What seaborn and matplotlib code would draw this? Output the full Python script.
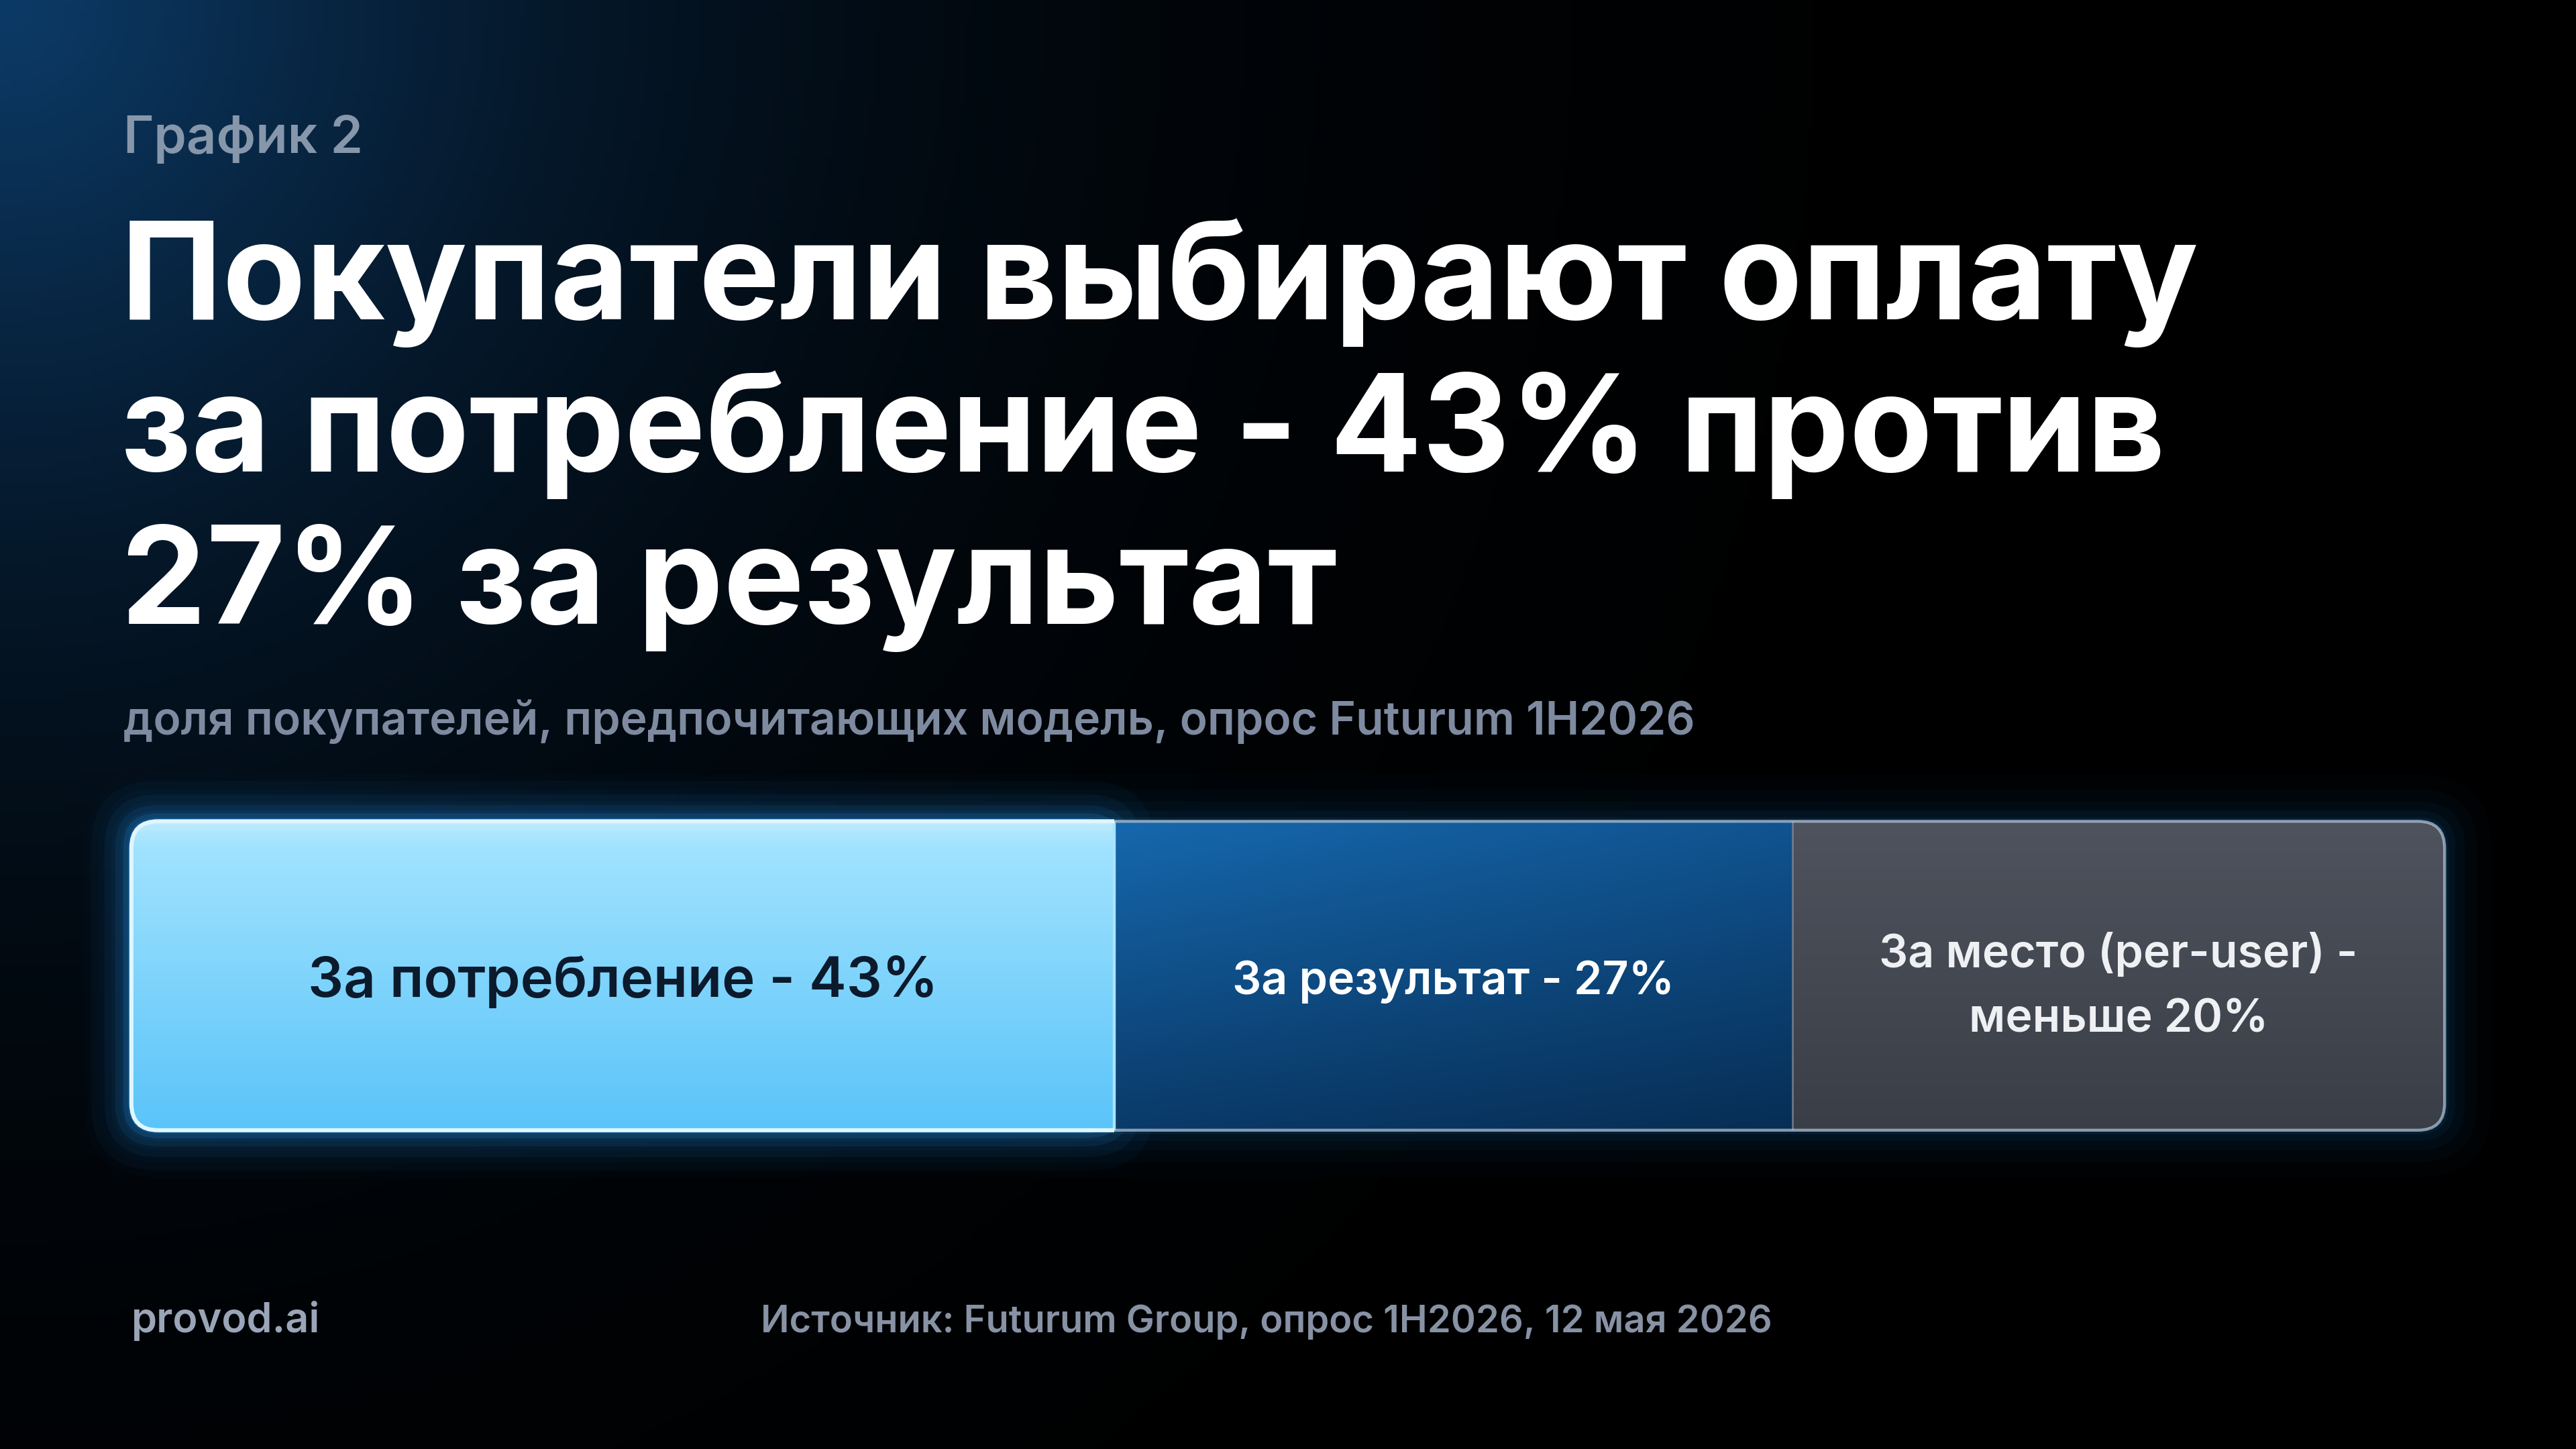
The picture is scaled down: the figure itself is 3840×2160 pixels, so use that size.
import numpy as np
import pandas as pd
import matplotlib.pyplot as plt
import seaborn as sns
from matplotlib.patches import FancyBboxPatch, Rectangle
from matplotlib.colors import to_rgb

# Texts and values
kicker = "График 2"
title_lines = ["Покупатели выбирают оплату",
               "за потребление - 43% против",
               "27% за результат"]
subtitle = "доля покупателей, предпочитающих модель, опрос Futurum 1H2026"
segments = ["За потребление - 43%", "За результат - 27%",
            "За место (per-user) -\nменьше 20%"]
seg_widths = [42.5, 29.3, 28.2]   # drawn widths of the three parts of the bar
brand = "provod.ai"
source = "Источник: Futurum Group, опрос 1H2026, 12 мая 2026"

seg_colors = ["#6fcdfb", "#0d4a85", "#42464f"]
seg_text_colors = ["#0b1a2c", "#ffffff", "#eef0f3"]
seg_font_sizes = [30, 24.5, 24.5]
seg_text_dy = [-0.02, -0.02, -0.035]

sns.set_theme(style="white")
plt.rcParams['font.family'] = ['Inter', 'DejaVu Sans']

W, H, DPI = 3840, 2160, 200
fig = plt.figure(figsize=(W / DPI, H / DPI), dpi=DPI, facecolor='black')

# background: black with a soft blue glow in the top-left corner
bg = fig.add_axes([0, 0, 1, 1], zorder=-10)
yy, xx = np.mgrid[0:1:270j, 0:1:480j]
d = np.sqrt(xx ** 2 + (yy * H / W) ** 2)
k = np.exp(-(d / 0.24) ** 1.3)
blue = np.array(to_rgb("#0c3a66"))
bg.imshow(k[..., None] * blue, extent=(0, 1, 0, 1), aspect='auto', origin='upper')
bg.set_axis_off()

# main bar axes, sized to the bar itself
ax = fig.add_axes([0.0510, 0.2200, 0.8980, 0.2132])
ax.set_facecolor('none')

df = pd.DataFrame({'segment': segments, 'width': seg_widths})
df['right'] = df['width'].cumsum()
df['left'] = df['right'] - df['width']
df['row'] = 'bar'

sns.barplot(data=df, x='right', y='row', hue='segment',
            hue_order=segments[::-1], palette=dict(zip(segments, seg_colors)),
            dodge=False, width=1.0, saturation=1, legend=False, ax=ax,
            linewidth=0)

total = df['right'].iloc[-1]
ax.set_xlim(0, total)
ax.set_ylim(-0.5, 0.5)
ax.set_axis_off()

# rounded outline of the whole bar, used for clipping
pos = ax.get_position()
px_x = pos.width * W / total
px_y = pos.height * H / 1.0
asp = px_x / px_y
r = 40 / px_x
outline = FancyBboxPatch((0, -0.5), total, 1.0,
                         boxstyle=f"round,pad=0,rounding_size={r}",
                         mutation_aspect=asp, transform=ax.transData,
                         facecolor='none', edgecolor='none')
ax.add_patch(outline)
for p in ax.patches:
    if p is not outline:
        p.set_clip_path(outline)

# glow behind the bar
for pad_px, a in [(70, 0.02), (48, 0.03), (30, 0.045), (16, 0.06), (6, 0.1)]:
    g = FancyBboxPatch((0, -0.5), total, 1.0,
                       boxstyle=f"round,pad={pad_px / px_x},rounding_size={r + pad_px / px_x}",
                       mutation_aspect=asp, transform=ax.transData,
                       facecolor="#1c86e0", edgecolor='none', alpha=a,
                       clip_on=False, zorder=0)
    ax.add_patch(g)
w1 = df['width'].iloc[0]
for pad_px, a in [(60, 0.04), (40, 0.06), (24, 0.09), (12, 0.14), (4, 0.22)]:
    g = FancyBboxPatch((0, -0.5), w1, 1.0,
                       boxstyle=f"round,pad={pad_px / px_x},rounding_size={r + pad_px / px_x}",
                       mutation_aspect=asp, transform=ax.transData,
                       facecolor="#2aa4ff", edgecolor='none', alpha=a,
                       clip_on=False, zorder=0)
    ax.add_patch(g)


def grad(c_top, c_bot, c_left=None, c_right=None, n=200):
    t = np.linspace(0, 1, n)[:, None, None]
    img = (1 - t) * np.array(to_rgb(c_top)) + t * np.array(to_rgb(c_bot))
    img = np.repeat(img, n, axis=1)
    if c_left is not None:
        s = np.linspace(0, 1, n)[None, :, None]
        img = img * (1 - 0.5 * s) + 0.5 * s * (
            (1 - t) * np.array(to_rgb(c_left)) + t * np.array(to_rgb(c_right)))
    return np.clip(img, 0, 1)


grads = [grad("#a6e5ff", "#5ac4f9"),
         grad("#1668ad", "#0a3a69", "#0b3f73", "#04213f"),
         grad("#4e535d", "#3a3e47")]
for (_, row), img in zip(df.iterrows(), grads):
    im = ax.imshow(img, extent=(row['left'], row['right'], -0.5, 0.5),
                   origin='upper', aspect='auto', zorder=2, interpolation='bilinear')
    im.set_clip_path(outline)

# top highlight on the first part
hl = np.zeros((60, 2, 4))
hl[..., :3] = 1
hl[:, :, 3] = np.linspace(0.55, 0, 60)[:, None] ** 2
im = ax.imshow(hl, extent=(0, w1, 0.38, 0.5), origin='upper', aspect='auto', zorder=3)
im.set_clip_path(outline)

# dividers and border
ax.plot([w1, w1], [-0.5, 0.5], color="#a9e3ff", lw=1.6, zorder=4)
x2 = df['right'].iloc[1]
ax.plot([x2, x2], [-0.5, 0.5], color="#7b8596", lw=1.0, alpha=0.8, zorder=4)
border = FancyBboxPatch((0, -0.5), total, 1.0,
                        boxstyle=f"round,pad=0,rounding_size={r}",
                        mutation_aspect=asp, transform=ax.transData,
                        facecolor='none', edgecolor="#b7c8da", lw=1.6,
                        alpha=0.7, zorder=5, clip_on=False)
ax.add_patch(border)
b1 = FancyBboxPatch((0, -0.5), total, 1.0,
                    boxstyle=f"round,pad=0,rounding_size={r}",
                    mutation_aspect=asp, transform=ax.transData,
                    facecolor='none', edgecolor="#dff6ff", lw=2.2, zorder=5)
ax.add_patch(b1)
b1.set_clip_on(True)
b1.set_clip_box(None)
b1.set_clip_path(Rectangle((-3, -0.7), w1 + 3, 1.4, transform=ax.transData))

ax.set_xlim(0, total)
ax.set_ylim(-0.5, 0.5)

# labels inside the bar
for (_, row), tc, fs, dy in zip(df.iterrows(), seg_text_colors, seg_font_sizes, seg_text_dy):
    ax.text((row['left'] + row['right']) / 2, dy, row['segment'],
            ha='center', va='center', color=tc, fontsize=fs,
            fontweight='semibold', linespacing=1.65, zorder=6)

# headings
fig.text(0.048, 1 - 93 / 882, kicker, color="#8797ab", fontsize=28,
         fontweight='semibold', va='baseline')
for i, line in enumerate(title_lines):
    fig.text(0.047, 1 - (194.4 + 92.7 * i) / 882, line, color="white",
             fontsize=73, fontweight='bold', va='baseline')
fig.text(0.048, 1 - 447 / 882, subtitle, color="#7e8aa0", fontsize=24.4,
         fontweight='semibold', va='baseline')

# footer
fig.text(0.051, 1 - 811 / 882, brand, color="#9aa5b8", fontsize=22,
         fontweight='semibold', va='baseline')
fig.text(0.2953, 1 - 811 / 882, source, color="#8892a5", fontsize=20.2,
         fontweight='semibold', va='baseline')

fig.savefig("out.png", dpi=DPI, facecolor='black')
